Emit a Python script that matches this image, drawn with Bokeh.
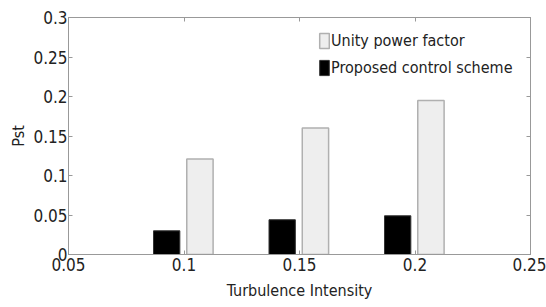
from bokeh.plotting import figure
from bokeh.models import (ColumnDataSource, LinearAxis, FixedTicker, Legend, LegendItem,
                          Range1d, CustomLabelingPolicy)
from bokeh.transform import dodge
from bokeh.embed import file_html
from bokeh.resources import INLINE

turbulence = [0.1, 0.15, 0.2]
unity_pf = [0.121, 0.160, 0.195]
proposed = [0.030, 0.044, 0.049]
x_ticks = [0.05, 0.1, 0.15, 0.2, 0.25]
x_tick_labels = ["0.05", "0.1", "0.15", "0.2", "0.25"]
y_ticks = [0, 0.05, 0.1, 0.15, 0.2, 0.25, 0.3]
y_tick_labels = ["0", "0.05", "0.1", "0.15", "0.2", "0.25", "0.3"]

FONT = "DejaVu Sans Condensed"

src = ColumnDataSource(dict(x=turbulence, u=unity_pf, p=proposed))

p = figure(width=546, height=307, output_backend="svg", toolbar_location=None,
           x_range=Range1d(0.05, 0.25), y_range=Range1d(0, 0.3),
           min_border_left=68, min_border_right=16, min_border_top=17, min_border_bottom=53)
p.background_fill_color = "white"
p.border_fill_color = "white"
p.outline_line_color = "#999999"
p.grid.visible = False

r_black = p.vbar(x=dodge("x", -0.0075, range=p.x_range), top="p", width=0.0114, source=src,
                 fill_color="black", line_color="#333333", line_width=1)
r_gray = p.vbar(x=dodge("x", 0.0069, range=p.x_range), top="u", width=0.0114, source=src,
                fill_color="#eeeeee", line_color="#b0b0b0", line_width=1.5)

for ax in p.xaxis + p.yaxis:
    ax.major_tick_in = 4
    ax.major_tick_out = 0
    ax.minor_tick_line_color = None
    ax.axis_line_color = "#999999"
    ax.major_tick_line_color = "#999999"
    ax.major_label_text_font = FONT
    ax.major_label_text_font_size = "17px"
    ax.major_label_text_color = "#222222"
    ax.axis_label_text_font = FONT
    ax.axis_label_text_font_size = "16px"
    ax.axis_label_text_font_style = "normal"
    ax.axis_label_text_color = "#222222"

p.xaxis.ticker = FixedTicker(ticks=x_ticks)
p.xaxis.major_label_overrides = dict(zip(x_ticks, x_tick_labels))
p.yaxis.ticker = FixedTicker(ticks=y_ticks)
p.yaxis.major_label_overrides = dict(zip(y_ticks, y_tick_labels))
p.xaxis.axis_label = "Turbulence Intensity"
p.yaxis.axis_label = "Pst"
p.xaxis.major_label_standoff = 3
p.xaxis.axis_label_standoff = 7
p.yaxis.major_label_standoff = 1
p.yaxis.axis_label_standoff = 2

no_labels = CustomLabelingPolicy(code="""
    for (const i of indices)
        indices.unset(i)
    return indices
""")
top_ax = LinearAxis(ticker=FixedTicker(ticks=x_ticks), major_label_policy=no_labels,
                    major_label_text_font_size="1px", major_label_standoff=0,
                    major_tick_in=4, major_tick_out=0, minor_tick_line_color=None,
                    axis_line_color="#999999", major_tick_line_color="#999999")
right_ax = LinearAxis(ticker=FixedTicker(ticks=y_ticks), major_label_policy=no_labels,
                      major_label_text_font_size="1px", major_label_standoff=0,
                      major_tick_in=4, major_tick_out=0, minor_tick_line_color=None,
                      axis_line_color="#999999", major_tick_line_color="#999999")
p.add_layout(top_ax, "above")
p.add_layout(right_ax, "right")

legend = Legend(items=[LegendItem(label="Unity power factor", renderers=[r_gray]),
                       LegendItem(label="Proposed control scheme", renderers=[r_black])],
                location=(250, 176))
legend.label_text_font = FONT
legend.label_text_font_size = "16px"
legend.label_text_color = "#222222"
legend.border_line_color = None
legend.background_fill_alpha = 0
legend.glyph_width = 12
legend.glyph_height = 19
legend.label_standoff = 1
legend.spacing = 6
legend.padding = 2
legend.margin = 0
legend.label_height = 21
p.add_layout(legend)

open("out.html", "w").write(file_html(p, INLINE))
